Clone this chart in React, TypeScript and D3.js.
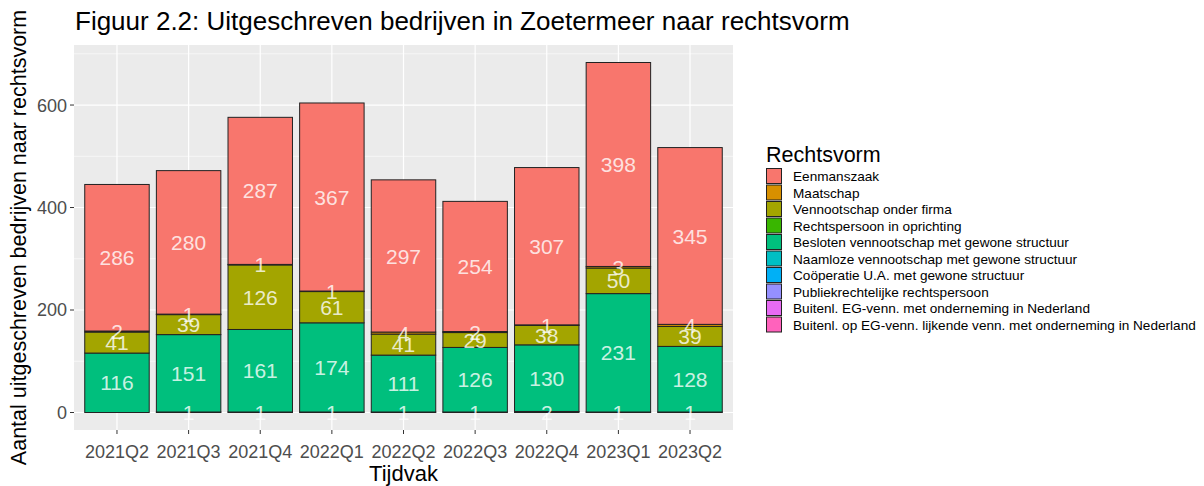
import * as d3 from "d3";

const periods = ["2021Q2", "2021Q3", "2021Q4", "2022Q1", "2022Q2", "2022Q3", "2022Q4", "2023Q1", "2023Q2"];

const rechtsvormen = [
  "Eenmanszaak",
  "Maatschap",
  "Vennootschap onder firma",
  "Rechtspersoon in oprichting",
  "Besloten vennootschap met gewone structuur",
  "Naamloze vennootschap met gewone structuur",
  "Coöperatie U.A. met gewone structuur",
  "Publiekrechtelijke rechtspersoon",
  "Buitenl. EG-venn. met onderneming in Nederland",
  "Buitenl. op EG-venn. lijkende venn. met onderneming in Nederland",
];

const colors = ["#F8766D", "#D89000", "#A3A500", "#39B600", "#00BF7D", "#00BFC4", "#00B0F6", "#9590FF", "#E76BF3", "#FF62BC"];

const eenmanszaak = [286, 280, 287, 367, 297, 254, 307, 398, 345];
const maatschap = [2, 1, 1, 1, 4, 2, 1, 3, 4];
const vof = [41, 39, 126, 61, 41, 29, 38, 50, 39];
const oprichting = [0, 0, 0, 0, 0, 0, 0, 0, 0];
const bv = [116, 151, 161, 174, 111, 126, 130, 231, 128];
const nv = [0, 1, 1, 1, 1, 1, 2, 1, 1];
const cooperatie = [0, 0, 0, 0, 0, 0, 0, 0, 0];
const publiek = [0, 0, 0, 0, 0, 0, 0, 0, 0];
const buitenlEG = [0, 0, 0, 0, 0, 0, 0, 0, 0];
const buitenlOpEG = [0, 0, 0, 0, 0, 0, 0, 0, 0];

const series = [eenmanszaak, maatschap, vof, oprichting, bv, nv, cooperatie, publiek, buitenlEG, buitenlOpEG];

const yTicks = [0, 200, 400, 600];
const yMinor = [100, 300, 500, 700];

export default function App() {
  const width = 1204;
  const height = 486;
  const panel = { left: 74, right: 733, top: 45, bottom: 430 };
  const font = "'Liberation Sans', Arial, sans-serif";

  const rows = periods.map((p, i) => {
    const r: any = { period: p };
    rechtsvormen.forEach((k, j) => (r[k] = series[j][i]));
    return r;
  });

  // ggplot stacks the first level on top, so stack keys in reverse
  const stacked = d3.stack<any>().keys([...rechtsvormen].reverse())(rows);
  const maxTotal = d3.max(rows, (r) => d3.sum(rechtsvormen, (k) => r[k])) as number;

  const x = d3.scalePoint().domain(periods).range([panel.left, panel.right]).padding(0.6);
  const barW = x.step() * 0.9;
  const y = d3
    .scaleLinear()
    .domain([-maxTotal * 0.05, maxTotal * 1.05])
    .range([panel.bottom, panel.top]);
  const color = d3.scaleOrdinal<string, string>().domain(rechtsvormen).range(colors);

  const legendX = 766;
  const legendY = 168;
  const keyH = 16.5;

  return (
    <svg width={width} height={height} style={{ position: "absolute", left: 0, top: 0, background: "white" }} fontFamily={font}>
      <text x={75} y={30} fontSize={26} fill="black">
        Figuur 2.2: Uitgeschreven bedrijven in Zoetermeer naar rechtsvorm
      </text>

      <rect x={panel.left} y={panel.top} width={panel.right - panel.left} height={panel.bottom - panel.top} fill="#EBEBEB" />
      {yMinor.map((t) => (
        <line key={"mi" + t} x1={panel.left} x2={panel.right} y1={y(t)} y2={y(t)} stroke="white" strokeWidth={0.6} />
      ))}
      {yTicks.map((t) => (
        <line key={"ma" + t} x1={panel.left} x2={panel.right} y1={y(t)} y2={y(t)} stroke="white" strokeWidth={1.2} />
      ))}
      {periods.map((p) => (
        <line key={"vx" + p} x1={x(p)} x2={x(p)} y1={panel.top} y2={panel.bottom} stroke="white" strokeWidth={1.2} />
      ))}

      {stacked.map((layer) => (
        <g key={layer.key} fill={color(layer.key)}>
          {layer.map((d, i) =>
            d[1] - d[0] > 0 ? (
              <rect
                key={i}
                x={x(periods[i])! - barW / 2}
                width={barW}
                y={y(d[1])}
                height={y(d[0]) - y(d[1])}
                stroke="#222"
                strokeWidth={1}
              />
            ) : null
          )}
        </g>
      ))}

      {stacked.map((layer) => (
        <g key={"t" + layer.key}>
          {layer.map((d, i) =>
            d[1] - d[0] > 0 ? (
              <text
                key={i}
                x={x(periods[i])}
                y={y((d[0] + d[1]) / 2)}
                dy="0.36em"
                textAnchor="middle"
                fontSize={21}
                fill="white"
                fillOpacity={0.8}
              >
                {d[1] - d[0]}
              </text>
            ) : null
          )}
        </g>
      ))}

      {yTicks.map((t) => (
        <g key={"yt" + t}>
          <line x1={panel.left - 4} x2={panel.left} y1={y(t)} y2={y(t)} stroke="#333" strokeWidth={1} />
          <text x={panel.left - 7} y={y(t)} dy="0.36em" textAnchor="end" fontSize={18} fill="#4D4D4D">
            {t}
          </text>
        </g>
      ))}
      {periods.map((p) => (
        <g key={"xt" + p}>
          <line x1={x(p)} x2={x(p)} y1={panel.bottom} y2={panel.bottom + 4} stroke="#333" strokeWidth={1} />
          <text x={x(p)} y={458} textAnchor="middle" fontSize={18} fill="#4D4D4D">
            {p}
          </text>
        </g>
      ))}

      <text x={(panel.left + panel.right) / 2} y={481} textAnchor="middle" fontSize={22} fill="black">
        Tijdvak
      </text>
      <text
        transform={`translate(26,${(panel.top + panel.bottom) / 2}) rotate(-90)`}
        textAnchor="middle"
        fontSize={21.5}
        fill="black"
      >
        Aantal uitgeschreven bedrijven naar rechtsvorm
      </text>

      <text x={legendX} y={162} fontSize={21.5} fill="black">
        Rechtsvorm
      </text>
      {rechtsvormen.map((k, i) => (
        <g key={"lg" + k} transform={`translate(${legendX},${legendY + i * keyH})`}>
          <rect x={0.5} y={0.5} width={15} height={keyH - 1.5} fill={color(k)} stroke="#222" strokeWidth={1} />
          <text x={27} y={keyH / 2} dy="0.36em" fontSize={13.6} fill="black">
            {k}
          </text>
        </g>
      ))}
    </svg>
  );
}
